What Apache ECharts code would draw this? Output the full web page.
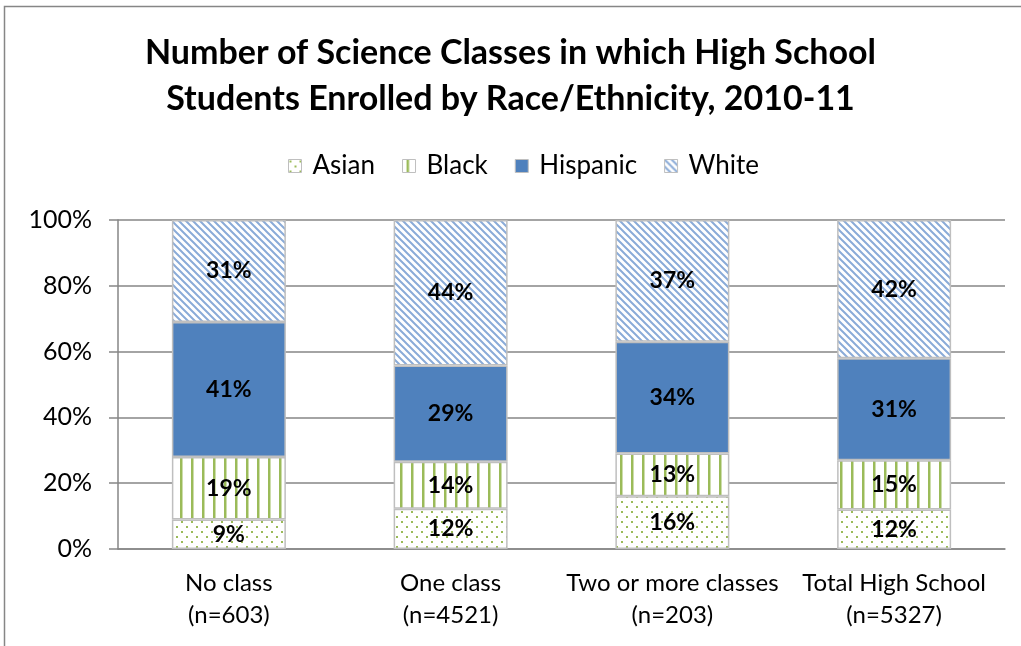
<!DOCTYPE html>
<html>
<head>
<meta charset="utf-8">
<script src="https://cdn.jsdelivr.net/npm/echarts@6/dist/echarts.min.js"></script>
<style>
  html, body { margin: 0; padding: 0; background: #fff; }
  #chart { width: 1021px; height: 646px; }
</style>
</head>
<body>
<div id="chart"></div>
<script>
// ---- Data ----
const categories = ['No class\n(n=603)', 'One class\n(n=4521)', 'Two or more classes\n(n=203)', 'Total High School\n(n=5327)'];
const seriesNames = ['Asian', 'Black', 'Hispanic', 'White'];
const asian    = [9, 12.2, 16, 12];
const black    = [19, 14.3, 13, 15];
const hispanic = [41, 29.3, 34, 31];
const white    = [31, 44.2, 37, 42];
const yTicks = [0, 20, 40, 60, 80, 100];

// ---- Patterns ----
function makeCanvas(w, h) {
  const c = document.createElement('canvas');
  c.width = w; c.height = h;
  return c;
}
function dotPattern() {
  const c = makeCanvas(10, 10);
  const g = c.getContext('2d');
  g.fillStyle = '#ffffff'; g.fillRect(0, 0, 10, 10);
  g.fillStyle = '#9BBB59';
  g.fillRect(1, 1, 2, 2);
  g.fillRect(6, 6, 2, 2);
  return c;
}
function vStripePattern() {
  const c = makeCanvas(11, 4);
  const g = c.getContext('2d');
  g.fillStyle = '#ffffff'; g.fillRect(0, 0, 11, 4);
  g.fillStyle = '#9BBB59';
  g.fillRect(4, 0, 2.5, 4);
  return c;
}
function diagPattern() {
  const s = 7;
  const c = makeCanvas(s, s);
  const g = c.getContext('2d');
  g.fillStyle = '#ffffff'; g.fillRect(0, 0, s, s);
  g.strokeStyle = '#8aabd8';
  g.lineWidth = 2;
  g.beginPath();
  g.moveTo(-2, -2); g.lineTo(s + 2, s + 2);
  g.moveTo(-2 - s, -2); g.lineTo(2, s + 2);
  g.moveTo(s - 2, -2); g.lineTo(2 * s + 2, s + 2);
  g.stroke();
  return c;
}

const fills = [
  { image: dotPattern(), repeat: 'repeat' },
  { image: vStripePattern(), repeat: 'repeat' },
  '#4F81BD',
  { image: diagPattern(), repeat: 'repeat' }
];
const dataSets = [asian, black, hispanic, white];

const FONT = 'Lato, "Open Sans", sans-serif';

const chart = echarts.init(document.getElementById('chart'), null, { renderer: 'canvas' });
chart.setOption({
  animation: false,
  backgroundColor: '#ffffff',
  textStyle: { fontFamily: FONT },
  graphic: [{
    type: 'rect',
    shape: { x: 4.5, y: 6.5, width: 1100, height: 1000 },
    style: { fill: 'none', stroke: '#868686', lineWidth: 1.5 },
    silent: true, z: -10
  }],
  title: {
    text: 'Number of Science Classes in which High School\nStudents Enrolled by Race/Ethnicity, 2010-11',
    left: 'center',
    top: 25,
    textStyle: { fontFamily: FONT, fontSize: 34, fontWeight: 'bold', color: '#000', lineHeight: 46 }
  },
  legend: {
    data: seriesNames,
    top: 148,
    left: 283,
    icon: 'rect',
    itemWidth: 13,
    itemHeight: 13,
    itemGap: 27,
    itemStyle: { borderColor: '#BFBFBF', borderWidth: 1 },
    textStyle: { fontFamily: FONT, fontSize: 26, color: '#000', padding: [0, 0, 0, 6] }
  },
  grid: { left: 118, right: 16, top: 220, bottom: 97, containLabel: false },
  xAxis: {
    type: 'category',
    data: categories,
    axisLine: { lineStyle: { color: '#868686', width: 1.5 } },
    axisTick: { show: false },
    axisLabel: { fontFamily: FONT, fontSize: 24, color: '#000', lineHeight: 32, margin: 18, interval: 0 }
  },
  yAxis: {
    type: 'value',
    min: 0, max: 100, interval: 20,
    axisLine: { show: true, lineStyle: { color: '#868686', width: 1.5 } },
    axisTick: { show: true, inside: false, length: 9, lineStyle: { color: '#868686', width: 1.5 } },
    splitLine: { show: true, lineStyle: { color: '#868686', width: 1.5 } },
    axisLabel: {
      fontFamily: FONT, fontSize: 25, color: '#000', margin: 26,
      formatter: v => yTicks.includes(v) ? v + '%' : ''
    }
  },
  series: seriesNames.map((name, i) => ({
    name: name,
    type: 'bar',
    stack: 'total',
    barWidth: 114,
    data: dataSets[i],
    itemStyle: { color: fills[i], borderColor: '#BFBFBF', borderWidth: 1.5 },
    label: {
      show: true,
      position: 'inside',
      fontFamily: FONT,
      fontSize: 23,
      fontWeight: 'bold',
      color: '#000',
      formatter: p => Math.round(p.value) + '%'
    }
  }))
});
</script>
</body>
</html>
